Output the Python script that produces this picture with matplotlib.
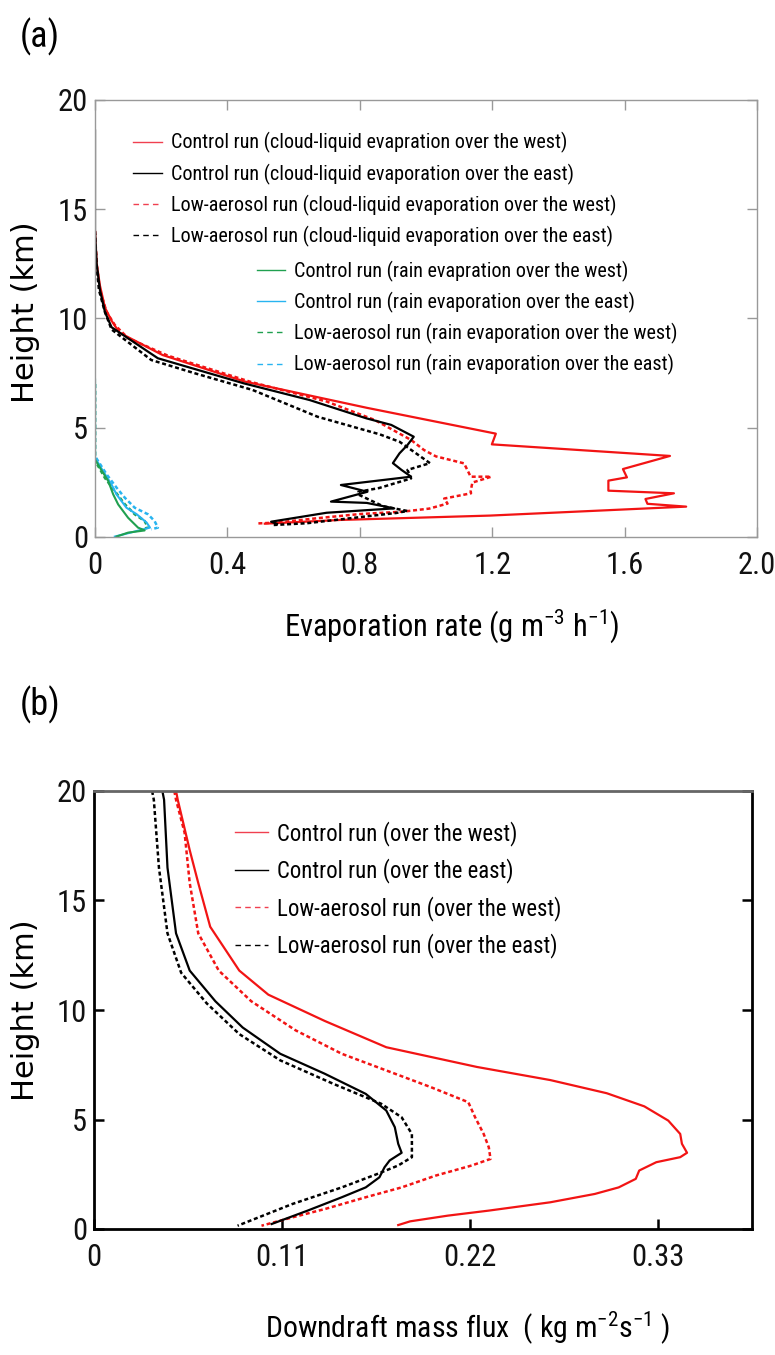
import matplotlib
matplotlib.use('Agg')
import matplotlib.pyplot as plt
from matplotlib.lines import Line2D

NARROW = ['Roboto Condensed', 'Liberation Sans Narrow', 'Roboto', 'DejaVu Sans']
plt.rcParams['font.family'] = NARROW
plt.rcParams['mathtext.fontset'] = 'custom'
plt.rcParams['mathtext.rm'] = 'Roboto Condensed'

RED = '#f21414'
GREEN = '#20a050'
BLUE = '#28b4f0'

# ---- panel (a): evaporation rate profiles (value, height km) ----
ctl_west_cl_x = [0.0, 0.005, 0.015, 0.03, 0.05, 0.074, 0.204, 0.451, 0.822, 1.211, 1.199, 1.737, 1.595,
                 1.607, 1.551, 1.551, 1.749, 1.663, 1.669, 1.786, 1.193, 0.74, 0.513]
ctl_west_cl_h = [14.0, 12.5, 11.5, 10.5, 9.9, 9.35, 8.33, 7.12, 5.91, 4.73, 4.24, 3.71, 3.11,
                 2.73, 2.58, 2.12, 2.0, 1.74, 1.52, 1.39, 0.98, 0.78, 0.61]

ctl_east_cl_x = [0.0, 0.0, 0.005, 0.015, 0.03, 0.05, 0.19, 0.45, 0.648, 0.82, 0.895, 0.963, 0.944, 0.92,
                 0.90, 0.926, 0.955, 0.743, 0.823, 0.713, 0.821, 0.904, 0.70, 0.532, 0.55]
ctl_east_cl_h = [18.6, 14.0, 12.5, 11.3, 10.3, 9.6, 8.18, 7.03, 6.27, 5.43, 5.13, 4.59, 4.21, 3.83,
                 3.38, 3.07, 2.76, 2.38, 2.07, 1.62, 1.56, 1.31, 1.11, 0.70, 0.6]

low_west_cl_x = [0.0, 0.005, 0.015, 0.035, 0.06, 0.1, 0.22, 0.47, 0.70, 0.846, 0.955, 0.994, 1.03, 1.115,
                 1.135, 1.197, 1.14, 1.135, 1.136, 1.055, 1.065, 1.01, 0.93, 0.80, 0.665, 0.55, 0.49]
low_west_cl_h = [14.0, 12.5, 11.3, 10.3, 9.7, 9.1, 8.3, 7.1, 6.2, 5.35, 4.44, 3.98, 3.69, 3.37,
                 2.76, 2.76, 2.49, 2.1, 2.0, 1.76, 1.53, 1.3, 1.16, 1.05, 0.85, 0.66, 0.62]

low_east_cl_x = [0.0, 0.004, 0.012, 0.03, 0.05, 0.17, 0.30, 0.476, 0.673, 0.86, 0.92, 1.012, 0.944, 0.955,
                 0.858, 0.796, 0.796, 0.87, 0.944, 0.91, 0.64, 0.54]
low_east_cl_h = [14.0, 12.5, 11.3, 10.3, 9.5, 8.1, 7.5, 6.73, 5.5, 4.7, 4.36, 3.38, 3.07, 2.68,
                 2.24, 2.07, 1.94, 1.41, 1.19, 1.1, 0.63, 0.55]

ctl_west_rain_x = [0.0, 0.0, 0.015, 0.04, 0.055, 0.07, 0.10, 0.13, 0.15, 0.10, 0.065]
ctl_west_rain_h = [7.2, 3.55, 3.17, 2.56, 1.95, 1.49, 0.88, 0.43, 0.30, 0.20, 0.02]
ctl_east_rain_x = [0.0, 0.0, 0.025, 0.05, 0.065, 0.095, 0.126, 0.156, 0.166, 0.12, 0.06]
ctl_east_rain_h = [7.2, 3.63, 3.0, 2.4, 1.95, 1.34, 1.04, 0.66, 0.43, 0.25, 0.02]
low_west_rain_x = [0.0, 0.0, 0.03, 0.06, 0.09, 0.12, 0.15, 0.16, 0.14]
low_west_rain_h = [7.0, 3.5, 2.7, 2.1, 1.5, 1.04, 0.73, 0.43, 0.35]
low_east_rain_x = [0.0, 0.0, 0.035, 0.065, 0.09, 0.12, 0.16, 0.18, 0.19, 0.17]
low_east_rain_h = [7.0, 3.7, 2.87, 2.26, 1.8, 1.34, 1.04, 0.73, 0.43, 0.35]

labels_a1 = ['Control run (cloud-liquid evapration over the west)',
             'Control run (cloud-liquid evaporation over the east)',
             'Low-aerosol run (cloud-liquid evaporation over the west)',
             'Low-aerosol run (cloud-liquid evaporation over the east)']
labels_a2 = ['Control run (rain evapration over the west)',
             'Control run (rain evaporation over the east)',
             'Low-aerosol run (rain evaporation over the west)',
             'Low-aerosol run (rain evaporation over the east)']
xticks_a = [0, 0.4, 0.8, 1.2, 1.6, 2.0]
xticklabels_a = ['0', '0.4', '0.8', '1.2', '1.6', '2.0']

# ---- panel (b): downdraft mass flux profiles ----
ctl_west_x = [0.048, 0.049, 0.056, 0.061, 0.068, 0.085, 0.102, 0.135, 0.171, 0.224, 0.267, 0.300, 0.322,
              0.336, 0.343, 0.344, 0.347, 0.343, 0.329, 0.319, 0.317, 0.307, 0.293, 0.267, 0.231,
              0.207, 0.185, 0.178]
ctl_west_h = [20.0, 19.6, 17.3, 15.8, 13.8, 11.8, 10.7, 9.5, 8.3, 7.4, 6.8, 6.2, 5.6,
              4.95, 4.34, 3.89, 3.48, 3.28, 3.05, 2.67, 2.29, 1.9, 1.6, 1.22, 0.84,
              0.61, 0.35, 0.18]
ctl_east_x = [0.040, 0.041, 0.043, 0.048, 0.056, 0.071, 0.087, 0.109, 0.135, 0.159, 0.171, 0.176, 0.178,
              0.180, 0.173, 0.170, 0.167, 0.159, 0.145, 0.125, 0.104]
ctl_east_h = [20.0, 19.6, 16.5, 13.5, 11.8, 10.4, 9.2, 8.0, 7.09, 6.17, 5.41, 4.65, 3.89,
              3.48, 3.13, 2.82, 2.36, 1.9, 1.45, 0.84, 0.23]
low_west_x = [0.047, 0.048, 0.053, 0.056, 0.061, 0.073, 0.092, 0.118, 0.145, 0.171, 0.197, 0.219, 0.223,
              0.228, 0.231, 0.232, 0.221, 0.200, 0.180, 0.159, 0.135, 0.116, 0.098]
low_west_h = [20.0, 19.6, 18.1, 15.8, 13.5, 11.8, 10.4, 9.07, 8.0, 7.24, 6.48, 5.79, 5.1,
              4.34, 3.73, 3.2, 2.9, 2.44, 1.9, 1.45, 0.91, 0.53, 0.15]
low_east_x = [0.034, 0.035, 0.038, 0.043, 0.051, 0.066, 0.085, 0.109, 0.140, 0.168, 0.180, 0.186, 0.186,
              0.178, 0.166, 0.145, 0.116, 0.084]
low_east_h = [20.0, 19.6, 16.5, 13.5, 11.7, 10.3, 8.9, 7.7, 6.63, 5.72, 5.1, 4.34, 3.28,
              2.9, 2.52, 1.9, 1.14, 0.15]

labels_b = ['Control run (over the west)', 'Control run (over the east)',
            'Low-aerosol run (over the west)', 'Low-aerosol run (over the east)']
xticks_b = [0, 0.11, 0.22, 0.33]
xticklabels_b = ['0', '0.11', '0.22', '0.33']
yticks = [0, 5, 10, 15, 20]

DOT = (0, (1.6, 1.1))

fig = plt.figure(figsize=(7.75, 13.55), dpi=100)

# ---------------- panel (a) ----------------
ax1 = fig.add_axes([95/775, 1 - 537/1355, 662/775, 437/1355])
ax1.plot(low_east_rain_x, low_east_rain_h, color=BLUE, lw=1.8, ls=DOT)
ax1.plot(low_west_rain_x, low_west_rain_h, color=GREEN, lw=1.8, ls=DOT)
ax1.plot(ctl_east_rain_x, ctl_east_rain_h, color=BLUE, lw=1.5)
ax1.plot(ctl_west_rain_x, ctl_west_rain_h, color=GREEN, lw=1.5)
ax1.plot(ctl_west_cl_x, ctl_west_cl_h, color=RED, lw=1.6)
ax1.plot(low_west_cl_x, low_west_cl_h, color=RED, lw=1.8, ls=DOT)
ax1.plot(low_east_cl_x, low_east_cl_h, color='black', lw=1.8, ls=DOT)
ax1.plot(ctl_east_cl_x, ctl_east_cl_h, color='black', lw=1.6)

ax1.set_xlim(0, 2.0)
ax1.set_ylim(0, 20)
ax1.set_xticks(xticks_a)
ax1.set_xticklabels(xticklabels_a)
ax1.set_yticks(yticks)
ax1.tick_params(direction='in', length=7, width=1, color='#999999', top=True, right=True,
                labelsize=22, labelcolor='#111111')
ax1.tick_params(axis='x', pad=10)
ax1.tick_params(axis='y', pad=5)
for s in ax1.spines.values():
    s.set_color('#999999')
    s.set_linewidth(1)

h1 = [Line2D([], [], color='#f04050', lw=1),
      Line2D([], [], color='black', lw=1),
      Line2D([], [], color='#f04050', lw=1, ls=(0, (4, 3))),
      Line2D([], [], color='black', lw=1, ls=(0, (4, 3)))]
h2 = [Line2D([], [], color=GREEN, lw=1),
      Line2D([], [], color=BLUE, lw=1),
      Line2D([], [], color=GREEN, lw=1, ls=(0, (4, 3))),
      Line2D([], [], color=BLUE, lw=1, ls=(0, (4, 3)))]
leg1 = ax1.legend(h1, labels_a1, loc='upper left', bbox_to_anchor=(0.058, 0.926), frameon=False,
                  fontsize=14.5, handlelength=1.4, handletextpad=0.45, labelspacing=0.5,
                  borderpad=0, borderaxespad=0)
ax1.add_artist(leg1)
ax1.legend(h2, labels_a2, loc='upper left', bbox_to_anchor=(0.245, 0.632), frameon=False,
           fontsize=14.5, handlelength=1.4, handletextpad=0.45, labelspacing=0.5,
           borderpad=0, borderaxespad=0)

fig.text(452/775, 1 - 626/1355, 'Evaporation rate (g m$^{-3}$ h$^{-1}$)', ha='center', va='center',
         fontsize=22)
fig.text(26/775, 1 - 312/1355, 'Height (km)', rotation=90, ha='center', va='center',
         fontsize=22, family='DejaVu Sans')
fig.text(20/775, 1 - 37/1355, '(a)', ha='left', va='center', fontsize=26)

# ---------------- panel (b) ----------------
ax2 = fig.add_axes([94/775, 1 - 1229/1355, 658/775, 438/1355])
ax2.plot(ctl_west_x, ctl_west_h, color=RED, lw=1.6)
ax2.plot(low_west_x, low_west_h, color=RED, lw=1.8, ls=DOT)
ax2.plot(low_east_x, low_east_h, color='black', lw=1.8, ls=DOT)
ax2.plot(ctl_east_x, ctl_east_h, color='black', lw=1.6)

ax2.set_xlim(0, 0.385)
ax2.set_ylim(0, 20)
ax2.set_xticks(xticks_b)
ax2.set_xticklabels(xticklabels_b)
ax2.set_yticks(yticks)
ax2.tick_params(direction='in', length=7, width=1.8, color='black', right=True,
                labelsize=22, labelcolor='#111111')
ax2.tick_params(axis='x', pad=10)
ax2.tick_params(axis='y', pad=5)
for s in ax2.spines.values():
    s.set_color('black')
    s.set_linewidth(2)
ax2.spines['top'].set_color('#666666')

hb = [Line2D([], [], color='#f04050', lw=1),
      Line2D([], [], color='black', lw=1),
      Line2D([], [], color='#f04050', lw=1, ls=(0, (4, 3))),
      Line2D([], [], color='black', lw=1, ls=(0, (4, 3)))]
ax2.legend(hb, labels_b, loc='upper left', bbox_to_anchor=(0.214, 0.932), frameon=False,
           fontsize=16.4, handlelength=1.45, handletextpad=0.4, labelspacing=0.55,
           borderpad=0, borderaxespad=0)

fig.text(468/775, 1 - 1328/1355, 'Downdraft mass flux  ( kg m$^{-2}$s$^{-1}$ )', ha='center',
         va='center', fontsize=21.5)
fig.text(26/775, 1 - 1010/1355, 'Height (km)', rotation=90, ha='center', va='center',
         fontsize=22, family='DejaVu Sans')
fig.text(20/775, 1 - 705/1355, '(b)', ha='left', va='center', fontsize=26)

fig.savefig('out.png', dpi=100)
